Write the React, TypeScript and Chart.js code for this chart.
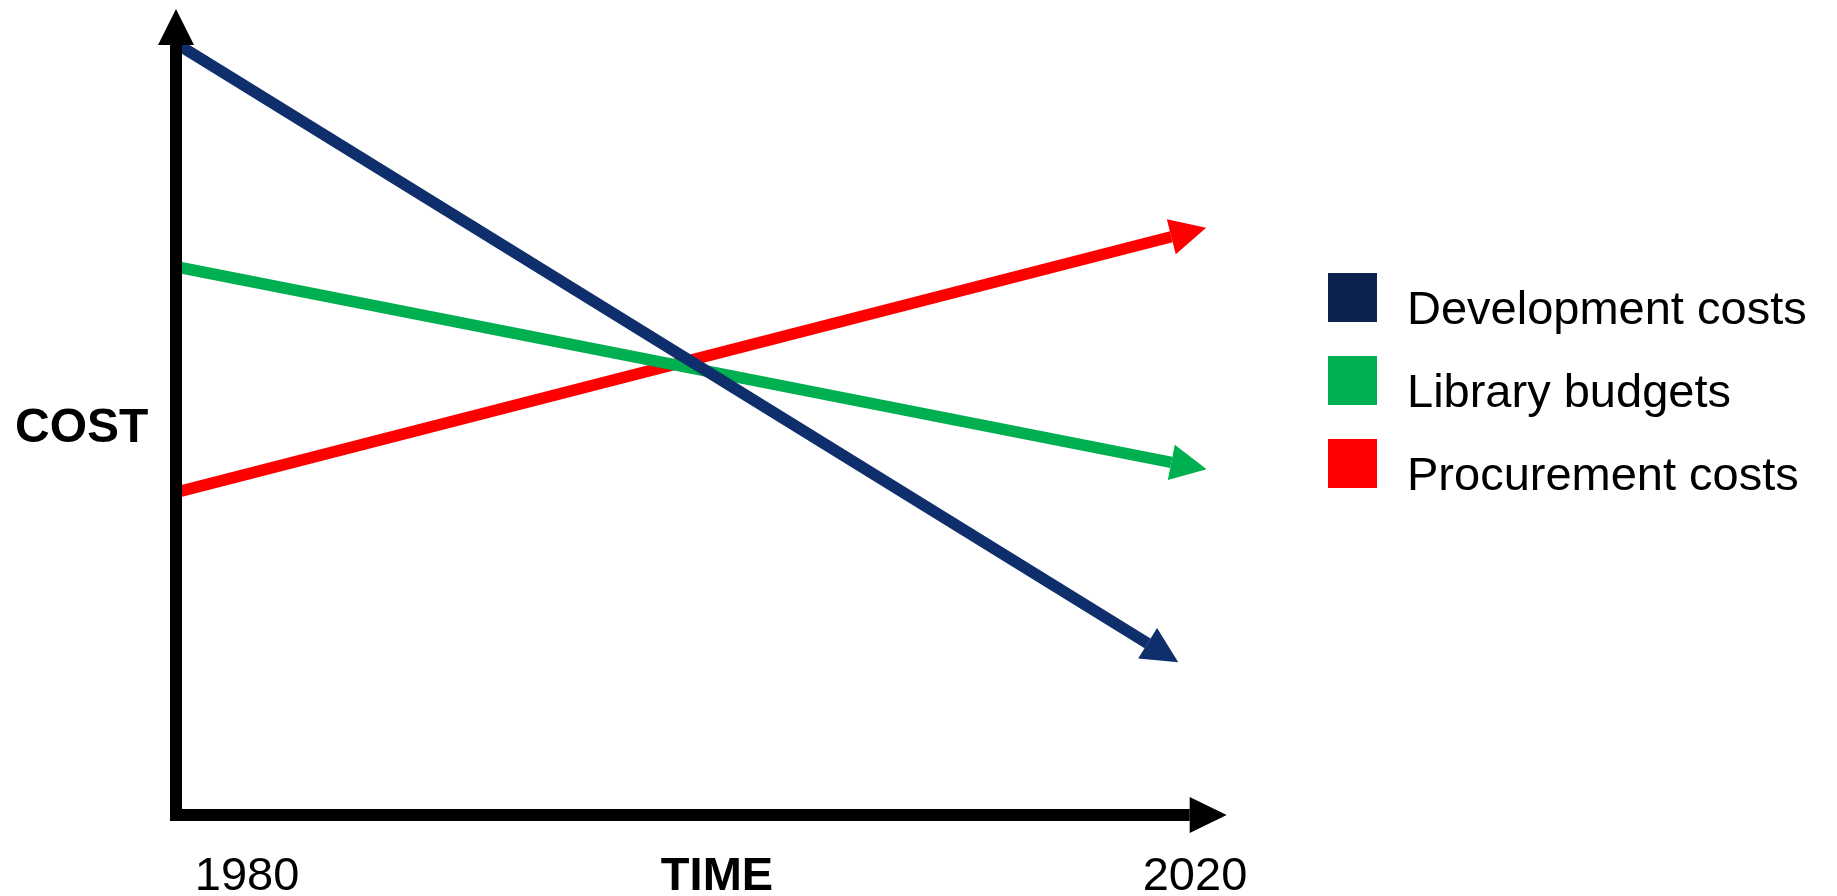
import React, { useEffect, useRef } from "react";
import { Chart, registerables } from "chart.js";

Chart.register(...registerables);

// ---------- data ----------
const SERIES_NAMES = ["Development costs", "Library budgets", "Procurement costs"];
const DEV_YEARS = [1977, 2018];
const DEV_COST = [100.2, 22.3];
const LIB_YEARS = [1977, 2019];
const LIB_COST = [71.2, 45.8];
const PROC_YEARS = [1977, 2019];
const PROC_COST = [41.9, 75.1];
const X_TICK_VALUES = [1980, 2020];
const X_TICK_LABELS = ["1980", "2020"];
const X_TITLE = "TIME";
const Y_TITLE = "COST";

// ---------- style ----------
const W = 1837;
const H = 896;
const FONT = '"Liberation Sans", Arial, Helvetica, sans-serif';
const LINE_COLORS = ["#0E2F6B", "#00B050", "#FF0000"];
const LEGEND_COLORS = ["#0C234F", "#00B050", "#FF0000"];
const AXIS_COLOR = "#000000";
const AXIS_W = 12;
const ARROW_LEN = 36;
const ARROW_HALF = 18;
const LINE_W = 11.5;

const toPoints = (xs: number[], ys: number[]) => xs.map((x, i) => ({ x, y: ys[i] }));

function arrowHead(ctx: CanvasRenderingContext2D, bx: number, by: number, ux: number, uy: number, len: number, half: number, color: string) {
  const px = -uy;
  const py = ux;
  ctx.beginPath();
  ctx.moveTo(bx + ux * len, by + uy * len);
  ctx.lineTo(bx + px * half, by + py * half);
  ctx.lineTo(bx - px * half, by - py * half);
  ctx.closePath();
  ctx.fillStyle = color;
  ctx.fill();
}

const diagramPlugin = {
  id: "diagram",
  afterDatasetsDraw(chart: any) {
    const ctx: CanvasRenderingContext2D = chart.ctx;
    const { top, right } = chart.chartArea;
    const xs = chart.scales.x;
    const ys = chart.scales.y;
    ctx.save();
    // series arrowheads
    chart.data.datasets.forEach((ds: any, i: number) => {
      const pts = chart.getDatasetMeta(i).data;
      const a = pts[pts.length - 2];
      const b = pts[pts.length - 1];
      const dx = b.x - a.x;
      const dy = b.y - a.y;
      const l = Math.hypot(dx, dy);
      arrowHead(ctx, b.x, b.y, dx / l, dy / l, ARROW_LEN, ARROW_HALF, ds.borderColor);
    });
    // axes
    const y0 = ys.getPixelForValue(0);
    const x0 = xs.getPixelForValue(xs.min);
    const xTip = right + 8;
    const xBase = xTip - ARROW_LEN - 1;
    ctx.fillStyle = AXIS_COLOR;
    ctx.fillRect(x0 - AXIS_W / 2, y0 - AXIS_W / 2, xBase - (x0 - AXIS_W / 2), AXIS_W);
    arrowHead(ctx, xBase, y0, 1, 0, ARROW_LEN + 1, ARROW_HALF, AXIS_COLOR);
    const yBase = top;
    ctx.fillStyle = AXIS_COLOR;
    ctx.fillRect(x0 - AXIS_W / 2, yBase, AXIS_W, y0 + AXIS_W / 2 - yBase);
    arrowHead(ctx, x0, yBase, 0, -1, ARROW_LEN, ARROW_HALF, AXIS_COLOR);
    ctx.restore();
  },
  afterDraw(chart: any) {
    const ctx: CanvasRenderingContext2D = chart.ctx;
    const xs = chart.scales.x;
    ctx.save();
    ctx.fillStyle = "#000";
    ctx.textBaseline = "alphabetic";
    // tick labels
    ctx.font = `47px ${FONT}`;
    ctx.textAlign = "center";
    X_TICK_VALUES.forEach((v, i) => {
      ctx.fillText(X_TICK_LABELS[i], xs.getPixelForValue(v), 890);
    });
    // axis titles
    ctx.font = `bold 47px ${FONT}`;
    ctx.textAlign = "center";
    ctx.fillText(X_TITLE, 717, 890);
    ctx.textAlign = "left";
    ctx.font = `bold 48px ${FONT}`;
    ctx.fillText(Y_TITLE, 15, 442);
    // legend
    ctx.font = `47px ${FONT}`;
    ctx.textAlign = "left";
    chart.data.datasets.forEach((ds: any, i: number) => {
      const t = 273 + i * 83;
      ctx.fillStyle = LEGEND_COLORS[i];
      ctx.fillRect(1328, t, 49, 49);
      ctx.fillStyle = "#000";
      ctx.fillText(ds.label, 1407, t + 51);
    });
    ctx.restore();
  },
};

export default function App() {
  const ref = useRef<HTMLCanvasElement | null>(null);
  useEffect(() => {
    if (!ref.current) return;
    const chart = new Chart(ref.current, {
      type: "line",
      data: {
        datasets: [
          { label: SERIES_NAMES[0], data: toPoints(DEV_YEARS, DEV_COST), borderColor: LINE_COLORS[0], backgroundColor: LINE_COLORS[0] },
          { label: SERIES_NAMES[1], data: toPoints(LIB_YEARS, LIB_COST), borderColor: LINE_COLORS[1], backgroundColor: LINE_COLORS[1] },
          { label: SERIES_NAMES[2], data: toPoints(PROC_YEARS, PROC_COST), borderColor: LINE_COLORS[2], backgroundColor: LINE_COLORS[2] },
        ].map((d) => ({ ...d, borderWidth: LINE_W, pointRadius: 0, tension: 0, borderCapStyle: "butt" as const, clip: false as any, fill: false })),
      },
      options: {
        responsive: false,
        animation: false,
        devicePixelRatio: 1,
        layout: { padding: { left: 176, right: W - 1218.7, top: 45, bottom: H - 815 } },
        scales: {
          x: { type: "linear", display: false, min: 1977, max: 2021 },
          y: { type: "linear", display: false, min: 0, max: 100 },
        },
        plugins: { legend: { display: false }, tooltip: { enabled: false }, title: { display: false } },
        events: [],
      },
      plugins: [diagramPlugin],
    });
    return () => chart.destroy();
  }, []);
  return (
    <div style={{ position: "absolute", left: 0, top: 0, width: W, height: H, background: "#fff" }}>
      <canvas ref={ref} width={W} height={H} style={{ display: "block" }} />
    </div>
  );
}
